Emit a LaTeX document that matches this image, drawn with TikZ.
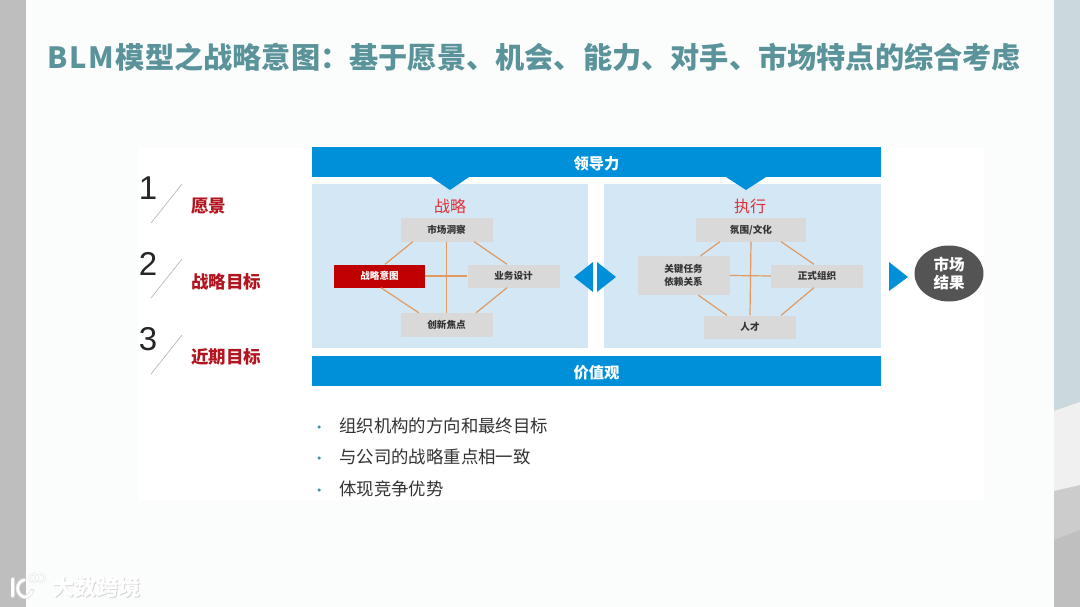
\documentclass[tikz,border=0pt]{standalone}
\usepackage{fontspec}
\usetikzlibrary{shapes.geometric,calc}
\setmainfont{Noto Sans CJK SC}
\newfontfamily\latinlight{Liberation Sans}
\definecolor{barblue}{HTML}{0090DA}
\definecolor{panelblue}{HTML}{D3E8F4}
\definecolor{boxgray}{HTML}{D9D9D9}
\definecolor{linkorange}{HTML}{E09A62}
\definecolor{darkred}{HTML}{C00000}
\definecolor{labelred}{HTML}{B2151F}
\definecolor{headred}{HTML}{E0303A}
\definecolor{titleteal}{HTML}{5B939B}
\definecolor{sidegray}{HTML}{BEBEBE}
\definecolor{sideblue}{HTML}{CBD8DE}
\definecolor{bulletblue}{HTML}{3E8FB0}
\definecolor{softwhite}{HTML}{FBFDFD}
\tikzset{
  x=1pt,y=-1pt,
  bar/.style={fill=barblue,draw=none,minimum height=30pt,text=white,font=\fontsize{15.3}{17}\selectfont\bfseries,inner sep=0pt},
  panel/.style={fill=panelblue,draw=none},
  gbox/.style={fill=boxgray,draw=none,text=black!80,font=\fontsize{9.6}{12.5}\selectfont\bfseries,inner sep=0pt,align=center},
  redbox/.style={fill=darkred,draw=none,text=white,font=\fontsize{9.6}{12.5}\selectfont\bfseries,inner sep=0pt},
  link/.style={draw=linkorange,line width=1.2pt},
  head/.style={text=headred,font=\fontsize{16}{18}\selectfont,inner sep=0pt},
  tri/.style={fill=barblue,draw=none},
  numtxt/.style={font=\latinlight\fontsize{33}{35}\selectfont,text=black!85,inner sep=0pt},
  slash/.style={draw=black!30,line width=0.6pt},
  goal/.style={text=labelred,font=\fontsize{17.5}{20}\selectfont\bfseries,inner sep=0pt,anchor=west},
  bullettxt/.style={text=black!80,font=\fontsize{17.4}{20}\selectfont,inner sep=0pt,anchor=west},
  dotm/.style={circle,fill=bulletblue,draw=none,minimum size=3.5pt,inner sep=0pt},
  logoedge/.style={draw=black!14,line width=4pt,line cap=round},
  logofill/.style={draw=white,line width=2.6pt,line cap=round},
  wmtxt/.style={font=\fontsize{22}{24}\selectfont\bfseries,inner sep=0pt},
}
\begin{document}
\begin{tikzpicture}
\useasboundingbox (0,0) rectangle (1080,607);
% slide backdrop
\fill[softwhite] (0,0) rectangle (1080,607);
\fill[white] (138,148) rectangle (984,500);
\fill[sidegray] (0,0) rectangle (26,607);
\fill[sideblue] (1054,0) rectangle (1080,411);
\fill[black!6] (1054,411) -- (1080,402) -- (1080,485) -- (1054,491) -- cycle;
\fill[black!20] (1054,491) -- (1080,485) -- (1080,607) -- (1054,607) -- cycle;
\fill[black!25] (1054,540) -- (1080,530) -- (1080,607) -- (1054,607) -- cycle;
% title
\node[text=titleteal,font=\fontsize{29.2}{32}\selectfont\bfseries,inner sep=0pt] (title) at (534.5,57) {B\kern1.5pt L\kern1.5pt M\kern1.5pt 模型之战略意图：基于愿景、机会、能力、对手、市场特点的综合考虑};
% panels
\node[panel,minimum width=276pt,minimum height=164pt,inner sep=0pt] (strategy) at (450,266) {};
\node[panel,minimum width=277pt,minimum height=164pt,inner sep=0pt] (exec) at (742.5,266) {};
\fill[tri] (431,177) -- (469,177) -- (450,190) -- cycle;
\fill[tri] (726,177) -- (766,177) -- (746,190) -- cycle;
\node[bar,minimum width=569pt] (lead) at (596.5,162.5) {\raisebox{-7.3pt}[0pt][0pt]{领导力}};
\node[bar,minimum width=569pt] (values) at (596.5,371) {\raisebox{-7.8pt}[0pt][0pt]{价值观}};
\node[head] (hs) at (450,206) {战略};
\node[head] (he) at (750,206) {执行};
% strategy boxes
\node[gbox,minimum width=92pt,minimum height=23pt] (s1) at (446.5,230) {市场洞察};
\node[redbox,minimum width=91pt,minimum height=23pt] (s2) at (379.5,276) {战略意图};
\node[gbox,minimum width=92pt,minimum height=23pt] (s3) at (513.5,276) {业务设计};
\node[gbox,minimum width=92pt,minimum height=24pt] (s4) at (446.5,325) {创新焦点};
\draw[link] (s1.south) -- (s4.north);
\draw[link] (s2.east) -- (s3.west);
\draw[link] ($(s1.south west)!.136!(s1.south east)$) -- ($(s2.north west)!.56!(s2.north east)$);
\draw[link] ($(s1.south west)!.80!(s1.south east)$) -- ($(s3.north west)!.43!(s3.north east)$);
\draw[link] ($(s2.south west)!.516!(s2.south east)$) -- ($(s4.north west)!.20!(s4.north east)$);
\draw[link] ($(s3.south west)!.43!(s3.south east)$) -- ($(s4.north west)!.82!(s4.north east)$);
% execution boxes
\node[gbox,minimum width=110pt,minimum height=23pt] (e1) at (751,230) {氛围/文化};
\node[gbox,minimum width=92pt,minimum height=39pt] (e2) at (683.5,275.5) {关键任务\\依赖关系};
\node[gbox,minimum width=92pt,minimum height=23pt] (e3) at (817,276) {正式组织};
\node[gbox,minimum width=92pt,minimum height=23pt] (e4) at (750,327) {人才};
\draw[link] (e1.south) -- (e4.north);
\draw[link] (e2.east) -- (e3.west);
\draw[link] ($(e1.south west)!.218!(e1.south east)$) -- ($(e2.north west)!.685!(e2.north east)$);
\draw[link] ($(e1.south west)!.773!(e1.south east)$) -- ($(e3.north west)!.467!(e3.north east)$);
\draw[link] ($(e2.south west)!.66!(e2.south east)$) -- ($(e4.north west)!.25!(e4.north east)$);
\draw[link] ($(e3.south west)!.467!(e3.south east)$) -- ($(e4.north west)!.837!(e4.north east)$);
% arrows between
\fill[tri] (574,277) -- (593,262) -- (593,292) -- cycle;
\fill[tri] (597,262) -- (616,277) -- (597,292) -- cycle;
\fill[tri] (889,262) -- (908,277) -- (889,291) -- cycle;
\node[ellipse,fill=black!67,text=white,font=\fontsize{15.5}{18}\selectfont\bfseries,align=center,minimum width=69pt,minimum height=56pt,inner sep=0pt] (result) at (949,273.5) {市场\\结果};
% left
\node[numtxt] (n1) at (148,188) {1};
\node[numtxt] (n2) at (148,264) {2};
\node[numtxt] (n3) at (148,339) {3};
\coordinate (a1) at (182,184); \coordinate (b1) at (151,223);
\coordinate (a2) at (182,259); \coordinate (b2) at (151,298);
\coordinate (a3) at (182,335); \coordinate (b3) at (151,374);
\draw[slash] (a1) -- (b1); \draw[slash] (a2) -- (b2); \draw[slash] (a3) -- (b3);
\node[goal] (g1) at (191,206) {愿景};
\node[goal] (g2) at (191,282) {战略目标};
\node[goal] (g3) at (191,357) {近期目标};
% bullets
\node[dotm] (d1) at (319,427) {}; \node[bullettxt] (t1) at (339,426) {组织机构的方向和最终目标};
\node[dotm] (d2) at (319,458) {}; \node[bullettxt] (t2) at (339,457) {与公司的战略重点相一致};
\node[dotm] (d3) at (319,490) {}; \node[bullettxt] (t3) at (339,489) {体现竞争优势};
% watermark
\foreach \st in {logoedge,logofill}{
  \draw[\st] (12.5,579) -- (12.5,596);
  \draw[\st] (24,580) .. controls (16,582) and (15,594) .. (24,597) .. controls (28,597) and (31,594) .. (32,591);
  \draw[\st,line width=\pgflinewidth*0.55] (33,578) circle (3.8);
  \draw[\st,line width=\pgflinewidth*0.55] (41,578) circle (3.8);
}
\node[wmtxt,text=black!16] (wms) at (97.2,588) {大数跨境};
\node[wmtxt,text=white] (wm) at (96.5,587) {大数跨境};
\end{tikzpicture}
\end{document}
